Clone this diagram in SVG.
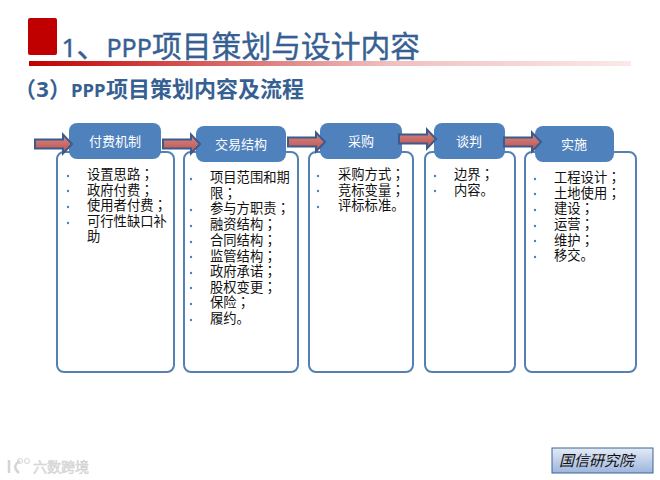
<svg xmlns="http://www.w3.org/2000/svg" width="660" height="480" viewBox="0 0 660 480">
<defs>
<linearGradient id="bar" x1="0" x2="1" y1="0" y2="0"><stop offset="0" stop-color="#c00000"/><stop offset="0.3" stop-color="#d66060"/><stop offset="0.6" stop-color="#f0c0c0"/><stop offset="1" stop-color="#fbe8e8"/></linearGradient>
<linearGradient id="badge" x1="0" x2="0" y1="0" y2="1"><stop offset="0" stop-color="#e4ebf6"/><stop offset="1" stop-color="#9db5dc"/></linearGradient>
<linearGradient id="arw" x1="0" x2="0" y1="0" y2="1"><stop offset="0" stop-color="#d98a86"/><stop offset="1" stop-color="#b9504c"/></linearGradient>
<path id="arrow" d="M0 -4.500H28V-9.500L37 0L28 9.500V4.500H0Z"/>
</defs>
<style>
text{font-family:"Liberation Sans","Noto Sans CJK SC",sans-serif}
.head{fill:#4f81bd}
.body{fill:#fff;stroke:#5580b4;stroke-width:2}
.lbl{fill:#fff;font-size:13px;text-anchor:middle}
.item{fill:#111;font-size:13.300px}
.p{font-family:"Liberation Sans","Noto Sans CJK TC",sans-serif}
.n{font-family:"Noto Sans",sans-serif}
.dot{fill:#4f81bd}
.arr{fill:url(#arw);stroke:#3c5a8c;stroke-width:2}
</style>
<rect width="660" height="480" fill="#fff"/>
<g id="header">
<rect x="28" y="18" width="29" height="37" rx="2" fill="#c00000"/>
<rect x="29" y="61" width="602" height="5" fill="url(#bar)"/>
<text y="57" font-size="29.800" fill="#376092" stroke="#376092" stroke-width="0.400"><tspan class="n" x="61.500" font-size="26">1</tspan><tspan x="76.500">、</tspan><tspan class="n" x="106.400" font-size="25">PPP</tspan><tspan x="152">项目策划与设计内容</tspan></text>
<text y="97" font-size="22" font-weight="700" fill="#376092"><tspan x="14">（</tspan><tspan class="n" x="36.200">3</tspan><tspan x="49">）</tspan><tspan class="n" x="71" font-size="18.500">PPP</tspan><tspan x="106">项目策划内容及流程</tspan></text>
</g>
<g id="node-1">
<rect class="body" x="57" y="152" width="117" height="220" rx="7"/>
<rect class="head" x="69" y="123" width="92" height="36" rx="8"/>
<text class="lbl" x="115" y="146">付费机制</text>
<text class="item"><tspan x="87" y="179">设置思路<tspan class="p">；</tspan></tspan><tspan x="87" y="194.500">政府付费<tspan class="p">；</tspan></tspan><tspan x="87" y="210">使用者付费<tspan class="p">；</tspan></tspan><tspan x="87" y="225.500">可行性缺口补</tspan><tspan x="87" y="241">助</tspan></text>
<g class="dot"><circle cx="68" cy="176" r="1.200"/><circle cx="68" cy="191" r="1.200"/><circle cx="68" cy="207" r="1.200"/><circle cx="68" cy="223" r="1.200"/></g>
</g>
<g id="node-2">
<rect class="body" x="184" y="152" width="114" height="220" rx="7"/>
<rect class="head" x="196" y="126" width="90" height="36" rx="8"/>
<text class="lbl" x="241" y="149">交易结构</text>
<text class="item"><tspan x="210" y="182">项目范围和期</tspan><tspan x="210" y="197.500">限<tspan class="p">；</tspan></tspan><tspan x="210" y="213">参与方职责<tspan class="p">；</tspan></tspan><tspan x="210" y="229">融资结构<tspan class="p">；</tspan></tspan><tspan x="210" y="245">合同结构<tspan class="p">；</tspan></tspan><tspan x="210" y="260.500">监管结构<tspan class="p">；</tspan></tspan><tspan x="210" y="276">政府承诺<tspan class="p">；</tspan></tspan><tspan x="210" y="291.500">股权变更<tspan class="p">；</tspan></tspan><tspan x="210" y="307">保险<tspan class="p">；</tspan></tspan><tspan x="210" y="323">履约。</tspan></text>
<g class="dot"><circle cx="191" cy="179" r="1.200"/><circle cx="191" cy="210" r="1.200"/><circle cx="191" cy="226" r="1.200"/><circle cx="191" cy="242" r="1.200"/><circle cx="191" cy="257" r="1.200"/><circle cx="191" cy="273" r="1.200"/><circle cx="191" cy="288" r="1.200"/><circle cx="191" cy="304" r="1.200"/><circle cx="191" cy="320" r="1.200"/></g>
</g>
<g id="node-3">
<rect class="body" x="309" y="152" width="104" height="220" rx="7"/>
<rect class="head" x="320" y="123" width="82" height="36" rx="8"/>
<text class="lbl" x="361" y="146">采购</text>
<text class="item"><tspan x="338" y="179">采购方式<tspan class="p">；</tspan></tspan><tspan x="338" y="194.500">竞标变量<tspan class="p">；</tspan></tspan><tspan x="338" y="210">评标标准。</tspan></text>
<g class="dot"><circle cx="318" cy="176" r="1.200"/><circle cx="318" cy="191" r="1.200"/><circle cx="318" cy="207" r="1.200"/></g>
</g>
<g id="node-4">
<rect class="body" x="425" y="152" width="90" height="220" rx="7"/>
<rect class="head" x="434" y="123" width="71" height="36" rx="8"/>
<text class="lbl" x="469" y="146">谈判</text>
<text class="item"><tspan x="454" y="179">边界<tspan class="p">；</tspan></tspan><tspan x="454" y="194.500">内容。</tspan></text>
<g class="dot"><circle cx="435" cy="176" r="1.200"/><circle cx="435" cy="191" r="1.200"/></g>
</g>
<g id="node-5">
<rect class="body" x="525" y="152" width="111" height="220" rx="7"/>
<rect class="head" x="535" y="126" width="79" height="36" rx="8"/>
<text class="lbl" x="574" y="149">实施</text>
<text class="item"><tspan x="554" y="182">工程设计<tspan class="p">；</tspan></tspan><tspan x="554" y="197.500">土地使用<tspan class="p">；</tspan></tspan><tspan x="554" y="213">建设<tspan class="p">；</tspan></tspan><tspan x="554" y="229">运营<tspan class="p">；</tspan></tspan><tspan x="554" y="244.500">维护<tspan class="p">；</tspan></tspan><tspan x="554" y="260">移交。</tspan></text>
<g class="dot"><circle cx="535" cy="179" r="1.200"/><circle cx="535" cy="194" r="1.200"/><circle cx="535" cy="210" r="1.200"/><circle cx="535" cy="226" r="1.200"/><circle cx="535" cy="241" r="1.200"/><circle cx="535" cy="257" r="1.200"/></g>
</g>
<g id="connectors">
<use href="#arrow" class="arr" x="35" y="144"/>
<use href="#arrow" class="arr" x="163" y="144"/>
<use href="#arrow" class="arr" x="288" y="142"/>
<use href="#arrow" class="arr" x="399" y="139"/>
<use href="#arrow" class="arr" x="504" y="142"/>
</g>
<g id="badge-node">
<rect x="552" y="448" width="101" height="25" fill="url(#badge)" stroke="#3c6496" stroke-width="1"/>
<text x="559" y="466" font-size="15" font-style="italic" fill="#111">国信研究院</text>
</g>
<g id="watermark">
<text x="33" y="472" font-size="14" fill="#e6e6e6" stroke="#cfcfcf" stroke-width="0.500">六数跨境</text>
<path d="M9 460V473M20 461Q11 466 19 473" fill="none" stroke="#d4d4d4" stroke-width="2.500"/>
<circle cx="20" cy="461" r="2.500" fill="none" stroke="#d4d4d4"/><circle cx="27" cy="461" r="2.500" fill="none" stroke="#d4d4d4"/>
</g>
</svg>
